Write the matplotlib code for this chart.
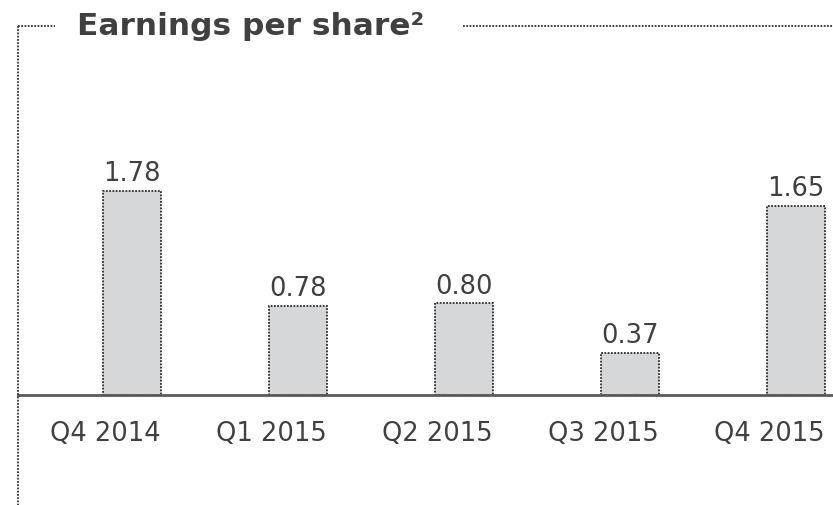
#!/usr/bin/env python3
"""Earnings per share, quarterly bar chart."""

import matplotlib
matplotlib.use('Agg')
import matplotlib.pyplot as plt
from matplotlib.lines import Line2D

# data
quarters = ['Q4 2014', 'Q1 2015', 'Q2 2015', 'Q3 2015', 'Q4 2015']
eps = [1.78, 0.78, 0.80, 0.37, 1.65]
value_labels = ['1.78', '0.78', '0.80', '0.37', '1.65']

W, H = 833, 505
TEXT = '#404040'
FRAME = '#333333'
BAR_W = 0.35

plt.rcParams['font.family'] = ['DejaVu Sans']

fig = plt.figure(figsize=(W / 100, H / 100), dpi=100)

# axes placed so baseline sits at y=395px, left frame at x=18px
ax = fig.add_axes([18 / W, 1 - 395 / H, 1 - 18 / W, (395 - 26) / H])

x = list(range(len(quarters)))
ax.bar(x, eps, width=BAR_W, color='#d6d7d9', edgecolor='#2e2e2e',
       linewidth=1.3, linestyle=(0, (1, 0.8)), zorder=2)

for xi, v, lab in zip(x, eps, value_labels):
    ax.annotate(lab, (xi, v), xytext=(0, 7), textcoords='offset points',
                ha='center', va='baseline', fontsize=18.5, color=TEXT)

ax.set_xlim(-0.687, 4.223)
ax.set_ylim(0, (395 - 26) / 114.6)

for side in ['top', 'right', 'left']:
    ax.spines[side].set_visible(False)
ax.spines['bottom'].set_color('#5a5a5a')
ax.spines['bottom'].set_linewidth(2)
ax.spines['bottom'].set_zorder(3)

# category labels sit flush with the right edge of each bar
ax.set_xticks([xi + BAR_W / 2 for xi in x])
ax.set_xticklabels(quarters, fontsize=18.5, color=TEXT, ha='right')
ax.tick_params(axis='x', length=0, pad=19)
ax.set_yticks([])

# dotted frame around the panel
def fig_line(xs, ys):
    fig.add_artist(Line2D([p / W for p in xs], [1 - p / H for p in ys],
                          transform=fig.transFigure, color=FRAME,
                          linewidth=1.3, linestyle=(0, (1, 0.8))))

fig_line([18, 18], [26, 505])
fig_line([18, 55], [26, 26])
fig_line([463, 833], [26, 26])

fig.text(77 / W, 1 - 35 / H, 'Earnings per share\u00b2', fontsize=22.5,
         fontweight='bold', color=TEXT, ha='left', va='baseline')

fig.savefig('out.png', dpi=100)
plt.close(fig)
